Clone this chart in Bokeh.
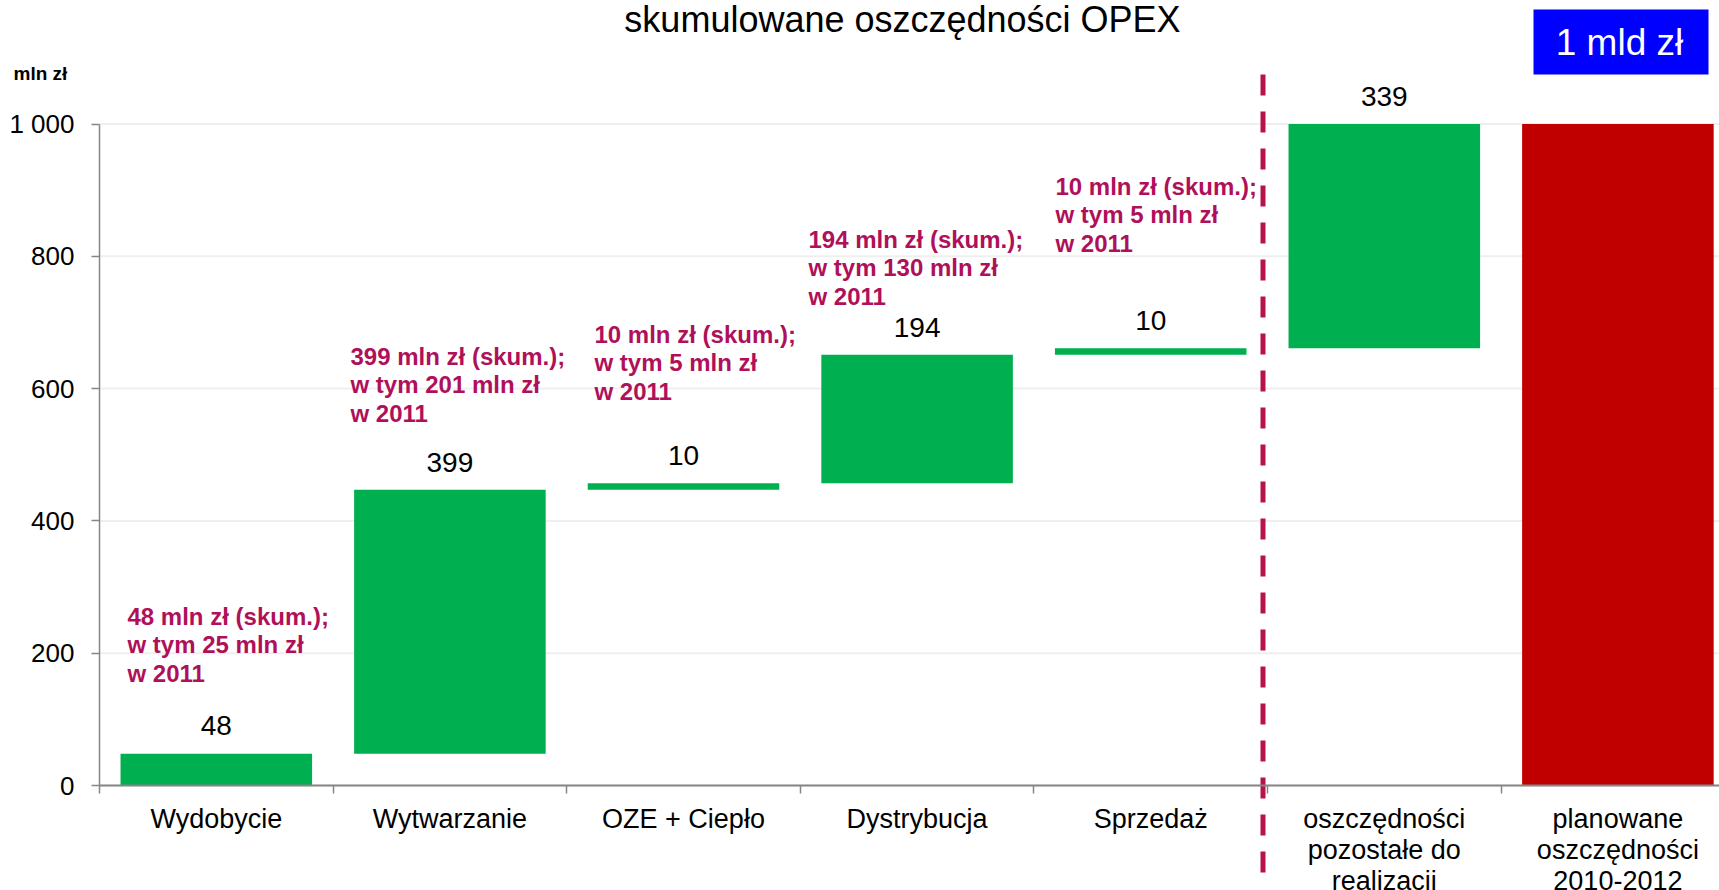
from bokeh.plotting import figure
from bokeh.models import FixedTicker, ColumnDataSource, Range1d
from bokeh.core.properties import value
from bokeh.embed import file_html
from bokeh.resources import INLINE

# ---------------- data ----------------
categories = ["Wydobycie", "Wytwarzanie", "OZE + Ciepło", "Dystrybucja", "Sprzedaż",
              "oszczędności\npozostałe do\nrealizacji",
              "planowane\noszczędności\n2010-2012"]
savings = [48, 399, 10, 194, 10, 339, 1000]
bar_kind = ["step", "step", "step", "step", "step", "step", "total"]
value_labels = ["48", "399", "10", "194", "10", "339", ""]
notes = [
    ["48 mln zł (skum.);", "w tym 25 mln zł", "w 2011"],
    ["399 mln zł (skum.);", "w tym 201 mln zł", "w 2011"],
    ["10 mln zł (skum.);", "w tym 5 mln zł", "w 2011"],
    ["194 mln zł (skum.);", "w tym 130 mln zł", "w 2011"],
    ["10 mln zł (skum.);", "w tym 5 mln zł", "w 2011"],
]
y_ticks = [0, 200, 400, 600, 800, 1000]
y_tick_labels = ["0", "200", "400", "600", "800", "1 000"]
title_text = "skumulowane oszczędności OPEX"
unit_text = "mln zł"
badge_text = "1 mld zł"

# ---------------- layout ----------------
W, H = 1719, 890
ORIGIN = 0       # screen offset of the figure
AX_X = 99.0      # screen x of category 0 edge
AX_Y = 785.0     # screen y of value 0
X_PX = 233.6     # px per category
Y_PX = 0.6615    # px per unit
x_start = (ORIGIN - AX_X) / X_PX
x_end = x_start + W / X_PX
y_end = (AX_Y - ORIGIN) / Y_PX
y_start = y_end - H / Y_PX
BASE_FIX = 0.35  # em correction of the text baseline


def sx(rx):
    return (rx - AX_X) / X_PX


def sy(ry):
    return (AX_Y - ry) / Y_PX


FONT = value("Liberation Sans")
GREEN = "#00B050"
RED = "#C00000"
NOTE_COL = "#B0105A"
DASH_COL = "#B5124E"
AXIS_COL = "#868686"

# waterfall geometry
bottoms, tops, centers, colors = [], [], [], []
running = 0
for i, (v, k) in enumerate(zip(savings, bar_kind)):
    if k == "total":
        b, t = 0, v
    else:
        b, t = running, running + v
        running = t
    bottoms.append(b)
    tops.append(t)
    centers.append(i + 0.5)
    colors.append(RED if k == "total" else GREEN)

src = ColumnDataSource(dict(x=centers, bottom=bottoms, top=tops, color=colors,
                            label=value_labels))

p = figure(width=W, height=H, output_backend="svg", toolbar_location=None,
           x_range=Range1d(x_start, x_end), y_range=Range1d(y_start, y_end),
           min_border=0, min_border_left=0, min_border_right=0,
           min_border_top=0, min_border_bottom=0)
p.outline_line_color = None
p.xgrid.visible = False
p.ygrid.visible = False

# grid lines
p.segment(x0=[0] * len(y_ticks), x1=[x_end] * len(y_ticks), y0=y_ticks, y1=y_ticks,
          line_color="#EFEFEF", line_width=2)

# bars
p.vbar(x="x", bottom="bottom", top="top", width=0.82, color="color",
       line_color=None, source=src)

# value labels
VAL_FS = 28
p.text(x="x", y="top", text="label", source=src, text_font=FONT,
       text_font_size=f"{VAL_FS}px", text_align="center", text_baseline="alphabetic",
       y_offset=-18 - BASE_FIX * VAL_FS, text_color="black")

# notes
NOTE_FS = 24
nx, ny, nt, noff = [], [], [], []
note_left = [127, 350, 594, 808, 1055]
note_base = [624, 364, 342, 247, 194]
for lines, lx, by in zip(notes, note_left, note_base):
    for j, line in enumerate(lines):
        nx.append(sx(lx))
        ny.append(sy(by))
        nt.append(line)
        noff.append(j * 28.7 - BASE_FIX * NOTE_FS)
p.text(x=nx, y=ny, text=nt, y_offset=noff, text_font=FONT,
       text_font_size=f"{NOTE_FS}px", text_font_style="bold", text_color=NOTE_COL,
       text_align="left", text_baseline="alphabetic")

# separator dashed line
p.segment(x0=[sx(1262.5)], x1=[sx(1262.5)], y0=[sy(74)], y1=[sy(876)],
          line_color=DASH_COL, line_width=5, line_dash="21 16")

# title, unit, badge
TITLE_FS = 36
p.text(x=[sx(902)], y=[sy(31.7)], text=[title_text], text_font=FONT,
       text_font_size=f"{TITLE_FS}px", text_align="center", text_baseline="alphabetic",
       y_offset=-BASE_FIX * TITLE_FS, text_color="black")
UNIT_FS = 19
p.text(x=[sx(13)], y=[sy(80)], text=[unit_text], text_font=FONT,
       text_font_size=f"{UNIT_FS}px", text_font_style="bold", text_align="left",
       text_baseline="alphabetic", y_offset=-BASE_FIX * UNIT_FS, text_color="black")
p.quad(left=[sx(1533)], right=[sx(1708)], top=[sy(9)], bottom=[sy(74)],
       color="#0000FF", line_color=None)
BADGE_FS = 37
p.text(x=[sx(1619)], y=[sy(55)], text=[badge_text], text_font=FONT,
       text_font_size=f"{BADGE_FS}px", text_align="center", text_baseline="alphabetic",
       y_offset=-BASE_FIX * BADGE_FS, text_color="white")

# axes
xa = p.xaxis[0]
xa.fixed_location = 0
xa.bounds = (0, x_end)
xa.ticker = FixedTicker(ticks=centers, minor_ticks=list(range(0, 7)))
xa.major_label_overrides = {c: lab for c, lab in zip(centers, categories)}
xa.major_tick_out = 0
xa.major_tick_in = 0
xa.minor_tick_out = 8
xa.minor_tick_in = 0
xa.minor_tick_line_color = AXIS_COL
xa.minor_tick_line_width = 1.5
xa.axis_line_color = AXIS_COL
xa.axis_line_width = 2
xa.major_label_text_font = "Liberation Sans"
xa.major_label_text_font_size = "27px"
xa.major_label_text_color = "black"
xa.major_label_text_line_height = 1.04
xa.major_label_standoff = 10

ya = p.yaxis[0]
ya.fixed_location = 0
ya.bounds = (0, 1000)
ya.ticker = FixedTicker(ticks=y_ticks, minor_ticks=[])
ya.major_label_overrides = {t: lab for t, lab in zip(y_ticks, y_tick_labels)}
ya.major_tick_out = 8
ya.major_tick_in = 0
ya.major_tick_line_color = AXIS_COL
ya.major_tick_line_width = 1.5
ya.axis_line_color = AXIS_COL
ya.axis_line_width = 1.5
ya.major_label_text_font = "Liberation Sans"
ya.major_label_text_font_size = "26px"
ya.major_label_text_color = "black"
ya.major_label_standoff = 17

open("out.html", "w").write(file_html(p, INLINE))
